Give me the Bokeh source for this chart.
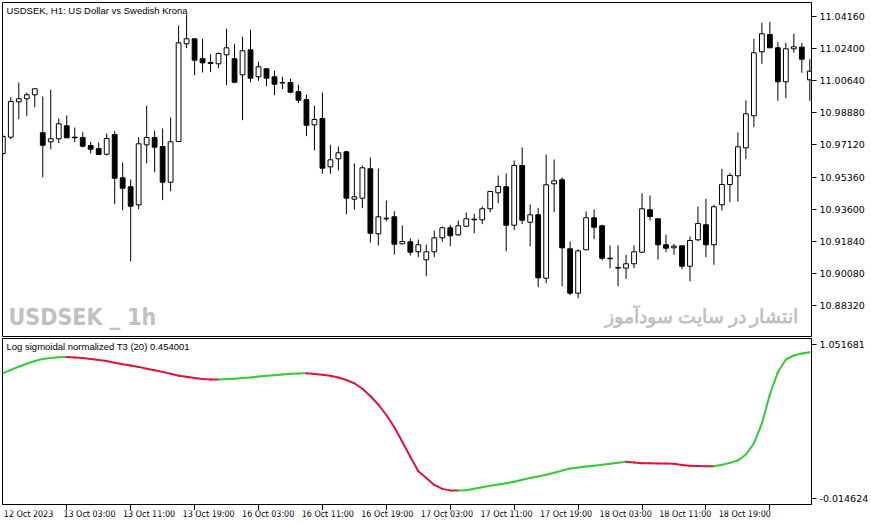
from bokeh.plotting import figure
from bokeh.models import Range1d, FixedTicker, Label
from bokeh.layouts import column
from bokeh.embed import file_html
from bokeh.resources import INLINE
from bokeh.core.properties import value

# ---------------- data ----------------
open_ = [10.96649, 10.97543, 10.99483, 10.99648, 10.99867, 10.97784, 10.97290, 10.97455, 10.98167, 10.97543,
         10.97526, 10.97087, 10.96923, 10.96610, 10.97690, 10.95317, 10.94823, 10.93836, 10.97126, 10.97526,
         10.97033, 10.95075, 10.97307, 11.02663, 11.02937, 11.01857, 11.01638, 11.01567, 11.02060, 11.01841,
         11.00964, 11.02334, 11.00854, 11.01292, 11.00854, 11.00541, 11.00541, 11.00048, 10.99609, 10.98222,
         10.98568, 10.95920, 10.96358, 10.96742, 10.94143, 10.94198, 10.95810, 10.92246, 10.93102, 10.93178,
         10.91698, 10.91808, 10.91259, 10.90821, 10.91259, 10.92027, 10.92575, 10.92192, 10.92663, 10.93047,
         10.93014, 10.93617, 10.94494, 10.94823, 10.92718, 10.95991, 10.92882, 10.93288, 10.89812, 10.94988,
         10.95207, 10.91424, 10.88990, 10.91369, 10.93124, 10.92685, 10.90909, 10.90399, 10.90366, 10.90602,
         10.91237, 10.93562, 10.93069, 10.91643, 10.91479, 10.91588, 10.90470, 10.91917, 10.92740, 10.91643,
         10.93836, 10.94949, 10.95426, 10.96961, 10.98716, 11.02224, 11.03173, 11.02444, 11.00580, 11.02389,
         11.02477, 11.00689]
high = [10.97690, 10.99735, 11.00541, 10.99993, 11.00200, 10.99774, 11.00158, 10.98568, 10.98732, 10.98074,
        10.97817, 10.97290, 10.97252, 10.97745, 10.97871, 10.96155, 10.95223, 10.97543, 10.99264, 10.97910,
        10.98019, 10.98622, 11.03666, 11.04269, 11.02940, 11.02937, 11.02093, 11.02186, 11.03485, 11.02663,
        11.03047, 11.03431, 11.01676, 11.01295, 11.01183, 11.00854, 11.00744, 11.00415, 10.99867, 10.99264,
        10.99993, 10.97126, 10.97033, 10.96797, 10.96101, 10.95991, 10.96429, 10.95826, 10.94072, 10.93485,
        10.92701, 10.91989, 10.91934, 10.91660, 10.92427, 10.92647, 10.92740, 10.92975, 10.93414, 10.93343,
        10.93743, 10.94604, 10.95443, 10.95552, 10.96265, 10.96978, 10.93853, 10.93672, 10.96594, 10.96320,
        10.95333, 10.91824, 10.91386, 10.93469, 10.93579, 10.92740, 10.91605, 10.91605, 10.91095, 10.91605,
        10.94472, 10.94346, 10.93075, 10.92192, 10.91698, 10.91590, 10.92098, 10.93743, 10.94165, 10.93836,
        10.95810, 10.95591, 10.97800, 10.99555, 11.02937, 11.03814, 11.03869, 11.02751, 11.02718, 11.03211,
        11.02718, 11.01819]
low = [10.96539, 10.97433, 10.98529, 10.98694, 10.99187, 10.95349, 10.96885, 10.97214, 10.97500, 10.97268,
       10.96978, 10.96649, 10.96590, 10.96539, 10.93869, 10.93540, 10.90744, 10.93595, 10.96117, 10.95624,
       10.94088, 10.94582, 10.97290, 11.02422, 11.00942, 11.01090, 11.01106, 11.01325, 11.00393, 11.00503,
       10.98474, 11.00558, 11.00635, 11.00339, 10.99845, 11.00174, 10.99955, 10.99407, 10.97597, 10.96830,
       10.95536, 10.95536, 10.95717, 10.93321, 10.93579, 10.93650, 10.91769, 10.91621, 10.92937, 10.91111,
       10.91676, 10.91057, 10.90964, 10.89922, 10.90964, 10.91808, 10.91567, 10.92137, 10.92608, 10.92279,
       10.92773, 10.93431, 10.93924, 10.91292, 10.92444, 10.92773, 10.91567, 10.89319, 10.89538, 10.93431,
       10.89373, 10.88880, 10.88716, 10.91360, 10.91950, 10.90799, 10.90360, 10.89373, 10.89779, 10.90360,
       10.91205, 10.92975, 10.90837, 10.91237, 10.91095, 10.90306, 10.89648, 10.91841, 10.90964, 10.90547,
       10.93524, 10.93979, 10.94017, 10.96336, 10.98091, 11.01567, 11.02422, 10.99538, 10.99681, 11.02170,
       11.01073, 10.99538]
close = [10.97581, 10.99500, 10.99648, 10.99867, 11.00196, 10.97104, 10.97455, 10.98277, 10.97510, 10.97510,
         10.97049, 10.96885, 10.96594, 10.97471, 10.95295, 10.94746, 10.93759, 10.97181, 10.97526, 10.96994,
         10.95075, 10.97290, 11.02718, 11.02937, 11.01764, 11.01621, 11.01583, 11.02131, 11.02444, 11.00558,
         11.02279, 11.00777, 11.01402, 11.00777, 11.00448, 11.00514, 11.00010, 10.99571, 10.98200, 10.98513,
         10.95843, 10.96303, 10.96687, 10.94198, 10.94275, 10.95865, 10.92279, 10.93178, 10.93069, 10.91676,
         10.91824, 10.91237, 10.91643, 10.91259, 10.92027, 10.92575, 10.92137, 10.92685, 10.93069, 10.93014,
         10.93617, 10.94565, 10.94840, 10.92718, 10.95991, 10.92992, 10.93288, 10.89834, 10.94933, 10.95152,
         10.91479, 10.88990, 10.91314, 10.93124, 10.92608, 10.90909, 10.90876, 10.90366, 10.90602, 10.91259,
         10.93617, 10.93195, 10.91643, 10.91457, 10.91567, 10.90470, 10.91879, 10.92811, 10.91643, 10.93727,
         10.94949, 10.95443, 10.97016, 10.98825, 11.02170, 11.03211, 11.02444, 11.00580, 11.02389, 11.02499,
         11.01819, 11.01161]
t3_values = [0.8530, 0.8751, 0.8980, 0.9187, 0.9374, 0.9513, 0.9582, 0.9631, 0.9658, 0.9617,
             0.9575, 0.9520, 0.9444, 0.9367, 0.9257, 0.9146, 0.9056, 0.8966, 0.8841, 0.8731,
             0.8620, 0.8495, 0.8357, 0.8280, 0.8204, 0.8128, 0.8100, 0.8094, 0.8121, 0.8149,
             0.8190, 0.8232, 0.8294, 0.8350, 0.8391, 0.8440, 0.8495, 0.8516, 0.8523, 0.8474,
             0.8426, 0.8350, 0.8232, 0.8059, 0.7830, 0.7450, 0.6951, 0.6349, 0.5635, 0.4791,
             0.3787, 0.2741, 0.1737, 0.1280, 0.0795, 0.0519, 0.0415, 0.0408, 0.0422, 0.0532,
             0.0636, 0.0733, 0.0823, 0.0913, 0.1010, 0.1155, 0.1266, 0.1377, 0.1502, 0.1633,
             0.1786, 0.1931, 0.2000, 0.2070, 0.2125, 0.2187, 0.2256, 0.2326, 0.2395, 0.2346,
             0.2298, 0.2291, 0.2284, 0.2270, 0.2256, 0.2173, 0.2118, 0.2097, 0.2090, 0.2083,
             0.2194, 0.2319, 0.2485, 0.2900, 0.3662, 0.5047, 0.7055, 0.8599, 0.9478, 0.9755,
             0.9894, 0.9984]

price_ticks = [10.8832, 10.9008, 10.9184, 10.936, 10.9536, 10.9712, 10.9888, 11.0064, 11.024, 11.0416]
price_tick_labels = ["10.88320", "10.90080", "10.91840", "10.93600", "10.95360",
                     "10.97120", "10.98880", "11.00640", "11.02400", "11.04160"]
ind_ticks = [-0.014624, 1.051681]
ind_tick_labels = ["-0.014624", "1.051681"]
time_tick_bars = [0, 8, 16, 24, 32, 40, 48, 56, 64, 72, 80, 88, 96]
time_tick_labels = ["12 Oct 2023", "13 Oct 03:00", "13 Oct 11:00", "13 Oct 19:00", "16 Oct 03:00",
                    "16 Oct 11:00", "16 Oct 19:00", "17 Oct 03:00", "17 Oct 11:00", "17 Oct 19:00",
                    "18 Oct 03:00", "18 Oct 11:00", "18 Oct 19:00"]

chart_title = "USDSEK, H1:  US Dollar vs Swedish Krona"
ind_title = "Log sigmoidal normalized T3 (20) 0.454001"
watermark_left = "USDSEK _ 1h"
watermark_right = "انتشار در سایت سودآموز"

# ranges
x_lo, x_hi = -0.04, 101.21
p_lo, p_hi = 10.86616, 11.04927
i_lo, i_hi = -0.0562, 1.0932

W = 871
LEFT = 2
FRAME_W = 810
RIGHT = W - LEFT - FRAME_W
AX_FONT = "DejaVu Sans"
TITLE_FONT = "Liberation Sans"


def base_fig(h, y_lo, y_hi, top, bottom, with_x):
    f = figure(width=W, height=h, x_range=Range1d(x_lo, x_hi), y_range=Range1d(y_lo, y_hi),
               output_backend="svg", toolbar_location=None, y_axis_location="right",
               x_axis_location="below" if with_x else None,
               min_border_left=LEFT, min_border_top=top, min_border_right=RIGHT,
               min_border_bottom=bottom)
    f.grid.visible = False
    f.outline_line_color = "black"
    f.background_fill_color = "white"
    f.border_fill_color = "white"
    ya = f.yaxis[0]
    ya.axis_line_color = "black"
    ya.major_tick_line_color = "black"
    ya.major_tick_in = 0
    ya.major_tick_out = 5
    ya.minor_tick_line_color = None
    ya.major_label_standoff = 3
    ya.major_label_text_font = AX_FONT
    ya.major_label_text_font_size = "9.5px"
    ya.major_label_text_color = "black"
    return f


# ---------------- main price panel ----------------
p1 = base_fig(337, p_lo, p_hi, 2, 1, False)
p1.yaxis[0].ticker = FixedTicker(ticks=price_ticks)
p1.yaxis[0].major_label_overrides = {t: l for t, l in zip(price_ticks, price_tick_labels)}

idx = list(range(len(open_)))
body_bottom = [min(o, c) for o, c in zip(open_, close)]
body_top = [max(o, c) for o, c in zip(open_, close)]
body_fill = ["white" if c >= o else "black" for o, c in zip(open_, close)]

p1.segment(x0=idx, y0=low, x1=idx, y1=high, line_color="black", line_width=1)
p1.vbar(x=idx, bottom=body_bottom, top=body_top, width=0.6,
        fill_color=body_fill, line_color="black", line_width=1)

p1.add_layout(Label(x=x_lo, y=p_hi, x_offset=4, y_offset=-8, text=chart_title,
                    text_font=TITLE_FONT, text_font_size="9.5px", text_color="black",
                    text_baseline="middle", text_align="left"))
p1.add_layout(Label(x=x_lo, y=p_lo, x_offset=6, y_offset=20, text=watermark_left,
                    text_font="DejaVu Sans Condensed", text_font_style="bold", text_font_size="23px",
                    text_color="#C0C0C0", text_baseline="middle", text_align="left"))
p1.add_layout(Label(x=x_hi, y=p_lo, x_offset=-13, y_offset=21, text=watermark_right,
                    text_font="Noto Sans", text_font_style="bold", text_font_size="19px",
                    text_color="#C0C0C0", text_baseline="middle", text_align="right"))

# ---------------- indicator panel ----------------
p2 = base_fig(173, i_lo, i_hi, 1, 6, True)
p2.yaxis[0].ticker = FixedTicker(ticks=ind_ticks)
p2.yaxis[0].major_label_overrides = {t: l for t, l in zip(ind_ticks, ind_tick_labels)}

xa = p2.xaxis[0]
xa.ticker = FixedTicker(ticks=time_tick_bars[1:])
xa.major_label_overrides = {t: "" for t in time_tick_bars[1:]}
xa.major_label_standoff = 0
xa.axis_line_color = "black"
xa.major_tick_line_color = "black"
xa.major_tick_in = 0
xa.major_tick_out = 6
xa.minor_tick_line_color = None

seg_x0 = idx[:-1]
seg_x1 = idx[1:]
seg_y0 = t3_values[:-1]
seg_y1 = t3_values[1:]
seg_col = ["#32CD32" if b >= a else "#DC143C" for a, b in zip(seg_y0, seg_y1)]
p2.segment(x0=seg_x0, y0=seg_y0, x1=seg_x1, y1=seg_y1, line_color=seg_col,
           line_width=2, line_cap="round")

p2.add_layout(Label(x=x_lo, y=i_hi, x_offset=4, y_offset=-8, text=ind_title,
                    text_font=TITLE_FONT, text_font_size="9.5px", text_color="black",
                    text_baseline="middle", text_align="left"))

# ---------------- time label strip ----------------
strip_h = 15
x_hi3 = x_lo + (W - LEFT) * (x_hi - x_lo) / FRAME_W
p3 = figure(width=W, height=strip_h, x_range=Range1d(x_lo, x_hi3), y_range=Range1d(0, 1),
            output_backend="svg", toolbar_location=None, x_axis_location=None, y_axis_location=None,
            min_border_left=LEFT, min_border_right=0, min_border_top=0, min_border_bottom=0)
p3.grid.visible = False
p3.outline_line_color = None
p3.background_fill_color = "white"
p3.border_fill_color = "white"
label_row = [0.75] * len(time_tick_bars)
p3.text(x=time_tick_bars, y=label_row, text=time_tick_labels, x_offset=1,
        text_font=value("DejaVu Sans"), text_font_size=value("8px"), text_color="black",
        text_baseline="middle", text_align="left")

layout = column(p1, p2, p3, spacing=0)
open("out.html", "w").write(file_html(layout, INLINE))
